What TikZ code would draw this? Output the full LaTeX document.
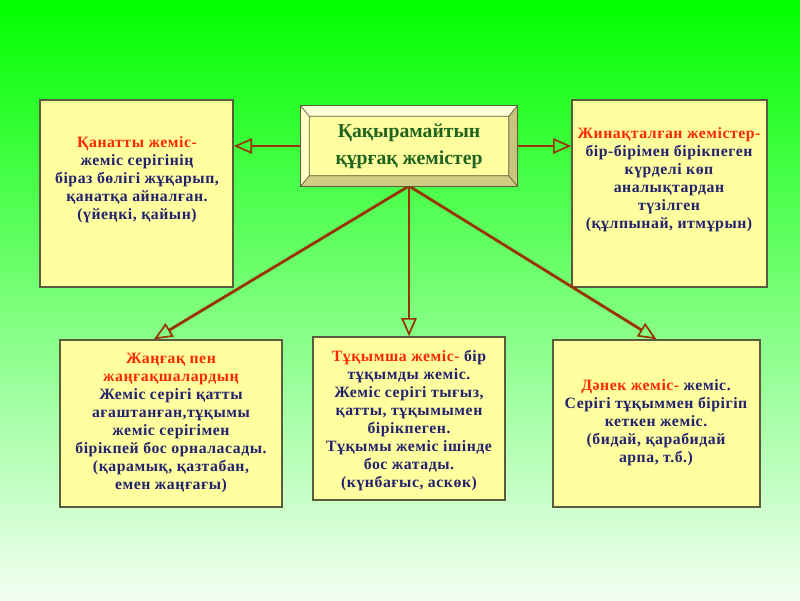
\documentclass[tikz,border=0pt]{standalone}
\usepackage{fontspec}
\setmainfont{Liberation Serif}
\newfontfamily\spaced[LetterSpace=3.5]{Liberation Serif}
\usetikzlibrary{arrows.meta,positioning,calc}
\definecolor{leaf}{RGB}{0,255,0}
\definecolor{mist}{RGB}{242,255,242}
\definecolor{cream}{RGB}{255,255,160}
\definecolor{rim}{RGB}{90,90,60}
\definecolor{rust}{RGB}{153,51,0}
\definecolor{ink}{RGB}{34,34,110}
\definecolor{hot}{RGB}{255,40,0}
\definecolor{pine}{RGB}{30,100,30}
\definecolor{lit}{RGB}{255,255,215}
\definecolor{dim}{RGB}{200,195,125}

\begin{document}
\begin{tikzpicture}[x=0.025cm, y=-0.025cm,
    card/.style={draw=rim, line width=1pt, fill=cream, inner sep=0pt},
    txt/.style={align=center, font=\spaced\fontsize{11.2}{12.8}\selectfont\bfseries, text=ink},
    head/.style={align=center, font=\fontsize{14}{19}\selectfont\bfseries, text=pine},
    arr/.style={-{Triangle[open, length=13pt, width=11pt, line width=1.2pt]}, rust, line width=2pt}
]
\useasboundingbox (0,0) rectangle (800,600);
\shade[top color=leaf, bottom color=mist] (0,0) rectangle (800,600);

% boxes
\node[card, minimum width=4.825cm, minimum height=4.675cm] (kan) at (136.5,193.5) {};
\node[card, minimum width=4.875cm, minimum height=4.675cm] (jin) at (669.5,193.5) {};
\node[card, minimum width=5.55cm, minimum height=4.175cm] (jan) at (171,423.5) {};
\node[card, minimum width=4.8cm, minimum height=4.075cm] (tuk) at (409,418.5) {};
\node[card, minimum width=5.175cm, minimum height=4.175cm] (dan) at (656.5,423.5) {};

% arrows
\draw[arr] (409,146) -- (kan.east |- 0,146);
\draw[arr] (409,146) -- (jin.west |- 0,146);
\draw[arr] (409,186) -- ($(jan.north)+(-17,0)$);
\draw[arr] (409,186) -- (tuk.north);
\draw[arr] (409,186) -- (dan.north);

% bevelled title box
\node[card, minimum width=5.4cm, minimum height=2cm] (core) at (409,146) {};
\coordinate (a) at ($(core.north west)+(9,11)$);
\coordinate (b) at ($(core.north east)+(-9,11)$);
\coordinate (c) at ($(core.south east)+(-9,-11)$);
\coordinate (d) at ($(core.south west)+(9,-11)$);
\fill[lit] (core.north west) -- (core.north east) -- (b) -- (a) -- cycle;
\fill[lit!70!cream] (core.north west) -- (a) -- (d) -- (core.south west) -- cycle;
\fill[dim] (core.north east) -- (core.south east) -- (c) -- (b) -- cycle;
\fill[dim!85!cream] (core.south west) -- (d) -- (c) -- (core.south east) -- cycle;
\draw[rim, line width=0.5pt] (core.north west) -- (a) (core.north east) -- (b)
  (core.south east) -- (c) (core.south west) -- (d) (a) rectangle (c);
\draw[rim, line width=1pt] (core.north west) rectangle (core.south east);
\node[head] (title) at (core) {Қақырамайтын\\құрғақ жемістер};

% texts
\node[txt] (kant) at (137,180) {{\color{hot}Қанатты жеміс-}\\жеміс серігінің\\біраз бөлігі жұқарып,\\қанатқа айналған.\\(үйеңкі, қайын)};
\node[txt] (jint) at (669,180) {{\color{hot}Жинақталған жемістер-}\\бір-бірімен бірікпеген\\күрделі көп\\аналықтардан\\түзілген\\(құлпынай, итмұрын)};
\node[txt] (jant) at (171,423) {{\color{hot}Жаңғақ пен}\\{\color{hot}жаңғақшалардың}\\Жеміс серігі қатты\\ағаштанған,тұқымы\\жеміс серігімен\\бірікпей бос орналасады.\\(қарамық, қазтабан,\\емен жаңғағы)};
\node[txt] (tukt) at (409,421) {{\color{hot}Тұқымша жеміс-} бір\\тұқымды жеміс.\\Жеміс серігі тығыз,\\қатты, тұқымымен\\бірікпеген.\\Тұқымы жеміс ішінде\\бос жатады.\\(күнбағыс, аскөк)};
\node[txt] (dant) at (656,423) {{\color{hot}Дәнек жеміс-} жеміс.\\Серігі тұқыммен бірігіп\\кеткен жеміс.\\(бидай, қарабидай\\арпа, т.б.)};
\end{tikzpicture}
\end{document}
